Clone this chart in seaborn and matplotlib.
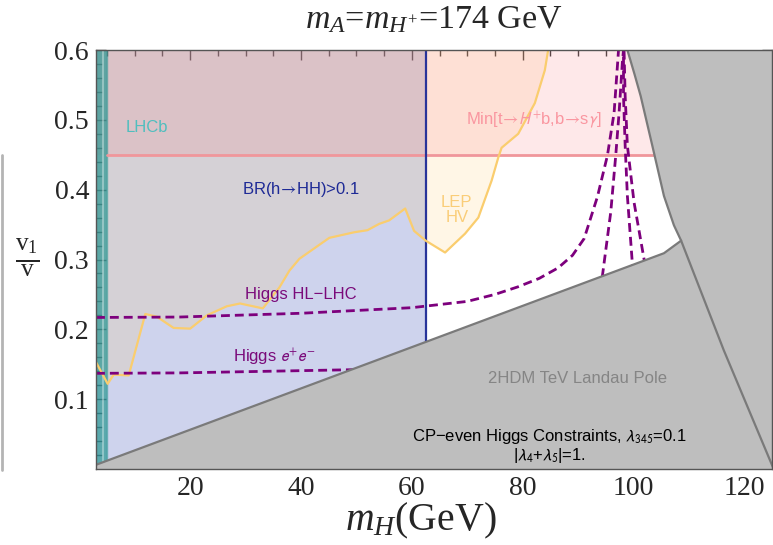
import numpy as np
import pandas as pd
import matplotlib
matplotlib.use("Agg")
import matplotlib.pyplot as plt
import seaborn as sns
from matplotlib.lines import Line2D

# ---------------- data (m_H in GeV, v1/v) ----------------
x_range = [3.0, 125.0]
y_range = [0.0, 0.6]

lhcb_x = [3.0, 5.0]            # LHCb excluded band
br_x_edge = 62.5               # BR(h -> HH) > 0.1 for m_H below this
min_tbsg_y = 0.45              # Min[t -> H+ b, b -> s gamma] bound

# LEP HV boundary (excluded above)
lep_x = [3.0, 5.1, 6.2, 8.9, 11.9, 14.0, 17.0, 20.0, 23.0, 26.6, 29.0, 33.1,
         36.1, 37.9, 39.7, 45.1, 49.6, 52.0, 54.1, 55.9, 58.8, 60.4, 62.5,
         66.0, 69.6, 72.0, 74.4, 75.6, 76.2, 79.2, 82.2, 84.0, 84.6]
lep_y = [0.153, 0.122, 0.135, 0.134, 0.222, 0.218, 0.202, 0.201, 0.220,
         0.233, 0.237, 0.230, 0.260, 0.284, 0.301, 0.331, 0.339, 0.342,
         0.351, 0.356, 0.373, 0.341, 0.327, 0.310, 0.337, 0.360, 0.413,
         0.446, 0.460, 0.480, 0.524, 0.571, 0.600]

# Higgs coupling reach, HL-LHC
hl_x = [3.0, 18.0, 40.0, 60.0, 70.0, 75.0, 79.2, 83.0, 86.4, 89.0, 91.1,
        93.5, 95.3, 96.5, 97.1, 97.3]
hl_y = [0.217, 0.2176, 0.223, 0.231, 0.240, 0.250, 0.261, 0.273, 0.288,
        0.306, 0.330, 0.390, 0.449, 0.510, 0.577, 0.600]

# Higgs coupling reach, e+e- (low-mass branch and high-mass branch)
ee_x = [3.0, 18.0, 48.0, 55.0]
ee_y = [0.137, 0.1376, 0.142, 0.143]
ee_hi_x = [94.0, 94.4, 95.9, 96.8, 97.4, 98.0, 98.2]
ee_hi_y = [0.255, 0.277, 0.368, 0.449, 0.510, 0.583, 0.600]

# further contour branches near m_H ~ 100 GeV
c_x = [99.9, 99.8, 98.9, 98.5, 98.2, 98.2]
c_y = [0.280, 0.294, 0.391, 0.463, 0.534, 0.600]
d_x = [102.1, 101.9, 100.1, 98.9, 98.5, 98.3]
d_y = [0.290, 0.301, 0.382, 0.463, 0.534, 0.600]

# TeV Landau pole: lower straight edge and right-hand boundary
landau_x = [3.0, 105.5, 108.6]
landau_y = [0.006, 0.309, 0.327]
pole_x = [98.9, 100.2, 101.3, 103.4, 105.5, 107.3, 108.6, 116.3, 124.4, 125.3]
pole_y = [0.600, 0.565, 0.534, 0.463, 0.391, 0.349, 0.327, 0.170, 0.017, 0.000]

xticks = [20, 40, 60, 80, 100, 120]
yticks = [0.1, 0.2, 0.3, 0.4, 0.5, 0.6]

# ---------------- style ----------------
sns.set_theme(style="ticks")
plt.rcParams["font.family"] = ["Liberation Serif", "DejaVu Serif"]
plt.rcParams["mathtext.fontset"] = "custom"
plt.rcParams["mathtext.rm"] = "Liberation Serif"
plt.rcParams["mathtext.it"] = "Liberation Serif:italic"
plt.rcParams["mathtext.bf"] = "Liberation Serif:bold"
SANS = ["Liberation Sans", "DejaVu Sans"]

c_gray = "#bebebe"
c_gray_edge = "#7a7a7a"
c_blue = (82/255, 98/255, 191/255)
c_lep = (1.0, 200/255, 100/255)
c_pink = (250/255, 120/255, 130/255)
c_teal = (40/255, 150/255, 145/255)
c_purple = "#7d007d"

fig = plt.figure(figsize=(7.73, 5.45), dpi=100)
ax = fig.add_axes([96/773, 76/545, 676/773, 419/545])
ax.set_xlim(*x_range)
ax.set_ylim(*y_range)

# excluded regions
ax.fill_between([x_range[0], br_x_edge], y_range[0], y_range[1],
                color=c_blue, alpha=0.28, lw=0, zorder=1)
ax.fill_between(lep_x, lep_y, y_range[1], color=c_lep, alpha=0.16, lw=0, zorder=2)
ax.fill_between(x_range, min_tbsg_y, y_range[1], color=c_pink, alpha=0.17,
                lw=0, zorder=3)
ax.fill_betweenx(y_range, lhcb_x[0], lhcb_x[1], color=c_teal, alpha=0.70,
                 lw=0, zorder=4)
ax.plot([4.2, 4.2], y_range, color="white", alpha=0.35, lw=1.5, zorder=4)
ax.plot([lhcb_x[1], lhcb_x[1]], y_range, color=c_teal, alpha=0.6, lw=1.0, zorder=4)

# boundary lines
ax.plot([lhcb_x[1], x_range[1]], [min_tbsg_y, min_tbsg_y],
        color=(240/255, 150/255, 155/255), lw=2.0, zorder=5)
br_bottom = np.interp(br_x_edge, landau_x, landau_y)
ax.plot([br_x_edge, br_x_edge], [br_bottom, y_range[1]], color="#28349a",
        lw=1.6, zorder=6)

lep_df = pd.DataFrame({"m_H": lep_x, "v1_v": lep_y})
sns.lineplot(data=lep_df, x="m_H", y="v1_v", sort=False, estimator=None,
             color=(250/255, 205/255, 110/255), lw=1.6, ax=ax, zorder=7)

dash = (0, (3.2, 1.8))
for xs, ys in [(hl_x, hl_y), (ee_x, ee_y), (ee_hi_x, ee_hi_y),
               (c_x, c_y), (d_x, d_y)]:
    sns.lineplot(x=xs, y=ys, sort=False, estimator=None, color=c_purple,
                 lw=2.0, linestyle=dash, ax=ax, zorder=8)

# Landau pole region (opaque, drawn over the curves)
k = pole_x.index(landau_x[-1])
poly_x = [x_range[0], *landau_x, *pole_x[k - 1::-1], x_range[1], x_range[1]]
poly_y = [y_range[0], *landau_y, *pole_y[k - 1::-1], y_range[1], y_range[0]]
ax.fill(poly_x, poly_y, color=c_gray, lw=0, zorder=9)
ax.plot(landau_x, landau_y, color=c_gray_edge, lw=1.6, zorder=10)
ax.plot(pole_x, pole_y, color=c_gray_edge, lw=1.6, zorder=10)

# region labels
lab = dict(family=SANS, fontsize=12, zorder=12, math_fontfamily="stixsans")
arrow = r"$\!\rightarrow\!$"
ax.text(8.3, 0.489, "LHCb", color=(80/255, 190/255, 190/255), ha="left",
        va="center", **lab)
ax.text(39.9, 0.400, "BR(h" + arrow + "HH)>0.1", color="#1e2a96",
        ha="center", va="center", **lab)
ax.text(68.1, 0.371, "LEP\nHV", color=(250/255, 205/255, 120/255), ha="center",
        va="center", linespacing=1.05, **lab)
ax.text(82.0, 0.499, "Min[t" + arrow + r"$H^{+}$b,b" + arrow + r"s$\gamma$]",
        color=(250/255, 150/255, 160/255), ha="center", va="center", **lab)
ax.text(40.0, 0.250, "Higgs HL−LHC", color="#7a0a7a", ha="center",
        va="center", **lab)
ax.text(35.1, 0.160, r"Higgs $e^{+}e^{-}$", color="#7a0a7a", ha="center",
        va="center", **lab)
ax.text(89.9, 0.129, "2HDM TeV Landau Pole", color="#858585", ha="center",
        va="center", **lab)
ax.text(84.9, 0.047, r"CP−even Higgs Constraints, $\lambda_{345}$=0.1",
        color="black", ha="center", va="center", **lab)
ax.text(84.8, 0.019, r"|$\lambda_4$+$\lambda_5$|=1.", color="black",
        ha="center", va="center", **lab)

# axes cosmetics
ax.set_xticks(xticks)
ax.set_yticks(yticks)
ax.set_xticklabels([str(t) for t in xticks])
ax.set_yticklabels([f"{t:.1f}" for t in yticks])
ax.set_xticks(np.arange(5, 125, 5), minor=True)
ax.set_yticks(np.arange(0.02, 0.6, 0.02), minor=True)
ax.tick_params(which="both", direction="in", top=True, right=True,
               color="#3c3c3c", labelsize=20, width=1.0)
ax.tick_params(which="major", length=7, pad=5)
ax.tick_params(which="minor", length=4)
for s in ax.spines.values():
    s.set_color("#555555")
    s.set_linewidth(1.0)
    s.set_zorder(20)
ax.set_xlabel("")
ax.set_ylabel("")

xlab = fig.text(421/773, 1 - 521/545, r"$m_H$(GeV)", ha="center",
                va="center", fontsize=20)
title = fig.text(434/773, 1 - 20/545, r"$m_A$=$m_{H^{+}}$=174 GeV",
                 ha="center", va="center", fontsize=20)
fig.text(27/773, 1 - 258/545, r"$\frac{\mathrm{v}_1}{\mathrm{v}}$",
         ha="center", va="center", fontsize=26)
fig.add_artist(Line2D([1.5/773, 1.5/773], [1 - 470/545, 1 - 155/545],
                      color="#b4b4b4", lw=2.0))

# scale the title and axis label to their intended pixel widths
fig.canvas.draw()
renderer = fig.canvas.get_renderer()
for txt, width_px in [(title, 258), (xlab, 152)]:
    w = txt.get_window_extent(renderer).width
    txt.set_fontsize(txt.get_fontsize() * width_px / w)

fig.savefig("out.png", dpi=100)
